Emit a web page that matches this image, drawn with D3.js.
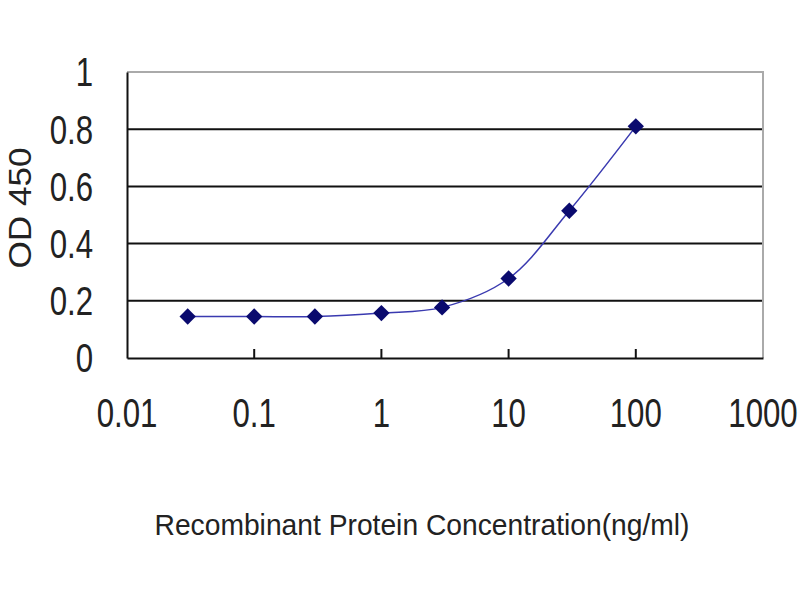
<!DOCTYPE html>
<html>
<head>
<meta charset="utf-8">
<script src="https://cdn.jsdelivr.net/npm/d3@7"></script>
<style>
  body { margin: 0; background: #fff; }
  svg { display: block; font-family: "Liberation Sans", Arial, sans-serif; }
</style>
</head>
<body>
<svg width="800" height="600"></svg>
<script>
// concentrations (ng/ml) and OD readings
const concentrations = [0.03, 0.1, 0.3, 1, 3, 10, 30, 100];
const odValues = [0.145, 0.145, 0.145, 0.157, 0.177, 0.278, 0.515, 0.81];
const xTicks = [0.01, 0.1, 1, 10, 100, 1000];
const yTicks = [0, 0.2, 0.4, 0.6, 0.8, 1];

const svg = d3.select("svg");
const area = { left: 127, right: 763, top: 72, bottom: 358 };
const squeeze = 0.78;

const scX = d3.scaleLog().domain([0.01, 1000]).range([area.left, area.right]);
const scY = d3.scaleLinear().domain([0, 1]).range([area.bottom, area.top]);

// gridlines
svg.append("g")
    .selectAll("line")
    .data(yTicks.filter(d => d > 0 && d < 1))
    .enter()
    .append("line")
    .attr("x1", area.left)
    .attr("x2", area.right)
    .attr("y1", d => scY(d))
    .attr("y2", d => scY(d))
    .attr("stroke", "#111")
    .attr("stroke-width", 2);

// top and right border (light grey)
svg.append("path")
    .attr("d", `M${area.left},${scY(1)}H${area.right}V${area.bottom}`)
    .attr("fill", "none")
    .attr("stroke", "#aaa")
    .attr("stroke-width", 2);

// y axis
const axisY = d3.axisLeft(scY).tickValues(yTicks).tickSize(0).tickFormat("");
svg.append("g")
    .attr("transform", `translate(${area.left},0)`)
    .call(axisY)
    .call(g => g.select(".domain").attr("stroke", "#111").attr("stroke-width", 2));

svg.append("g")
    .selectAll("text")
    .data(yTicks)
    .enter()
    .append("text")
    .attr("transform", d => `translate(93,${scY(d)}) scale(${squeeze},1)`)
    .attr("dy", "0.36em")
    .attr("text-anchor", "end")
    .attr("font-size", 40)
    .attr("fill", "#222")
    .text(d => String(d));

// x axis
const axisX = d3.axisBottom(scX).tickValues(xTicks).tickSize(0).tickFormat("");
svg.append("g")
    .attr("transform", `translate(0,${area.bottom})`)
    .call(axisX)
    .call(g => g.select(".domain").attr("stroke", "#111").attr("stroke-width", 2));

svg.append("g")
    .selectAll("text")
    .data(xTicks)
    .enter()
    .append("text")
    .attr("transform", d => `translate(${scX(d)},413) scale(${squeeze},1)`)
    .attr("dy", "0.36em")
    .attr("text-anchor", "middle")
    .attr("font-size", 40)
    .attr("fill", "#222")
    .text(d => String(d));

// small tick marks inside plot on x axis
svg.append("g")
    .selectAll("line")
    .data(xTicks.slice(1, -1))
    .enter()
    .append("line")
    .attr("x1", d => scX(d))
    .attr("x2", d => scX(d))
    .attr("y1", area.bottom)
    .attr("y2", area.bottom - 9)
    .attr("stroke", "#111")
    .attr("stroke-width", 2);

// series
const points = concentrations.map((c, i) => ({ c: c, v: odValues[i] }));

const lineGenerator = d3.line()
    .x(d => scX(d.c))
    .y(d => scY(d.v))
    .curve(d3.curveCatmullRom.alpha(0.5));

svg.append("path")
    .datum(points)
    .attr("fill", "none")
    .attr("stroke", "#3a3ab0")
    .attr("stroke-width", 1.5)
    .attr("d", lineGenerator);

svg.selectAll(".dot")
    .data(points)
    .enter()
    .append("path")
    .attr("d", d3.symbol().type(d3.symbolDiamond2).size(170))
    .attr("transform", d => `translate(${scX(d.c)},${scY(d.v)})`)
    .attr("fill", "#0a0a6e");

// axis titles
svg.append("text")
    .attr("x", 422)
    .attr("y", 535)
    .attr("text-anchor", "middle")
    .attr("font-size", 30)
    .attr("textLength", 535)
    .attr("lengthAdjust", "spacingAndGlyphs")
    .attr("fill", "#222")
    .text("Recombinant Protein Concentration(ng/ml)");

svg.append("text")
    .attr("transform", "translate(31,208) rotate(-90)")
    .attr("text-anchor", "middle")
    .attr("font-size", 32)
    .attr("textLength", 121)
    .attr("lengthAdjust", "spacingAndGlyphs")
    .attr("fill", "#222")
    .text("OD 450");
</script>
</body>
</html>
